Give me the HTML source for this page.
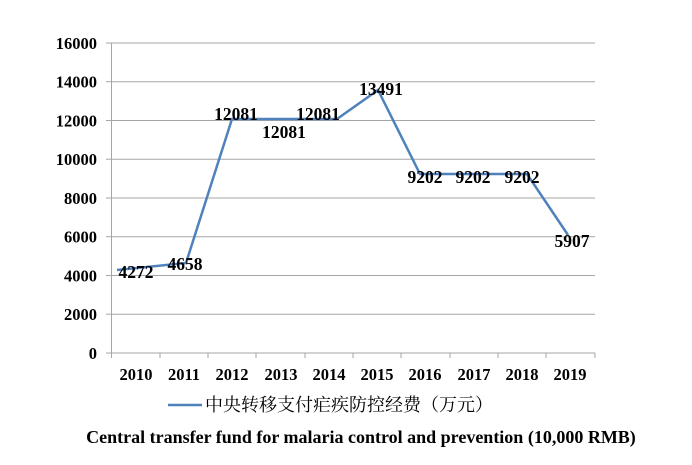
<!DOCTYPE html>
<html><head><style>body{margin:0;background:#fff}svg{display:block}</style></head>
<body>
<svg width="692" height="465" xmlns="http://www.w3.org/2000/svg" font-family="Liberation Serif, serif" font-weight="bold">
<g stroke="#a6a6a6" stroke-width="1">
<line x1="111" y1="43" x2="595" y2="43"/>
<line x1="111" y1="81.7" x2="595" y2="81.7"/>
<line x1="111" y1="120.5" x2="595" y2="120.5"/>
<line x1="111" y1="159.2" x2="595" y2="159.2"/>
<line x1="111" y1="198" x2="595" y2="198"/>
<line x1="111" y1="236.7" x2="595" y2="236.7"/>
<line x1="111" y1="275.5" x2="595" y2="275.5"/>
<line x1="111" y1="314.2" x2="595" y2="314.2"/>
<line x1="111" y1="353" x2="595" y2="353"/>
<line x1="111.5" y1="43" x2="111.5" y2="353"/>
<g>
<line x1="106" y1="43" x2="111" y2="43"/><line x1="106" y1="81.7" x2="111" y2="81.7"/><line x1="106" y1="120.5" x2="111" y2="120.5"/><line x1="106" y1="159.2" x2="111" y2="159.2"/><line x1="106" y1="198" x2="111" y2="198"/><line x1="106" y1="236.7" x2="111" y2="236.7"/><line x1="106" y1="275.5" x2="111" y2="275.5"/><line x1="106" y1="314.2" x2="111" y2="314.2"/><line x1="106" y1="353" x2="111" y2="353"/>
<line x1="111.5" y1="353" x2="111.5" y2="358"/><line x1="160" y1="353" x2="160" y2="358"/><line x1="208" y1="353" x2="208" y2="358"/><line x1="256" y1="353" x2="256" y2="358"/><line x1="305" y1="353" x2="305" y2="358"/><line x1="353" y1="353" x2="353" y2="358"/><line x1="401" y1="353" x2="401" y2="358"/><line x1="450" y1="353" x2="450" y2="358"/><line x1="498" y1="353" x2="498" y2="358"/><line x1="546" y1="353" x2="546" y2="358"/><line x1="595" y1="353" x2="595" y2="358"/>
</g></g>
<g font-size="16.5" text-anchor="end" fill="#000">
<text x="97" y="49">16000</text><text x="97" y="87.7">14000</text><text x="97" y="126.5">12000</text><text x="97" y="165.2">10000</text><text x="97" y="204">8000</text><text x="97" y="242.7">6000</text><text x="97" y="281.5">4000</text><text x="97" y="320.2">2000</text><text x="97" y="359">0</text>
</g>
<g font-size="16.5" text-anchor="middle" fill="#000">
<text x="136" y="380">2010</text><text x="184" y="380">2011</text><text x="232" y="380">2012</text><text x="281" y="380">2013</text><text x="329" y="380">2014</text><text x="377" y="380">2015</text><text x="425" y="380">2016</text><text x="474" y="380">2017</text><text x="522" y="380">2018</text><text x="570" y="380">2019</text>
</g>
<polyline fill="none" stroke="#4f81bd" stroke-width="2.5" points="117,270 186,263 232,119 337,119 378,90 420,174 527,174 568,235"/>
<g font-size="17.5" text-anchor="middle" fill="#000">
<text x="136" y="278">4272</text><text x="185" y="270">4658</text><text x="236" y="120">12081</text><text x="284" y="138">12081</text><text x="318" y="120">12081</text><text x="381" y="95">13491</text><text x="425" y="183">9202</text><text x="473" y="183">9202</text><text x="522" y="183">9202</text><text x="572" y="247">5907</text>
</g>
<line x1="168" y1="405" x2="202" y2="405" stroke="#4f81bd" stroke-width="2.5"/>
<text x="205" y="411" font-size="18" font-weight="normal" font-family="Noto Serif CJK SC, Noto Sans CJK SC, serif">中央转移支付疟疾防控经费（万元）</text>
<text x="361" y="443" font-size="18" text-anchor="middle">Central transfer fund for malaria control and prevention (10,000 RMB)</text>
</svg>
</body></html>
